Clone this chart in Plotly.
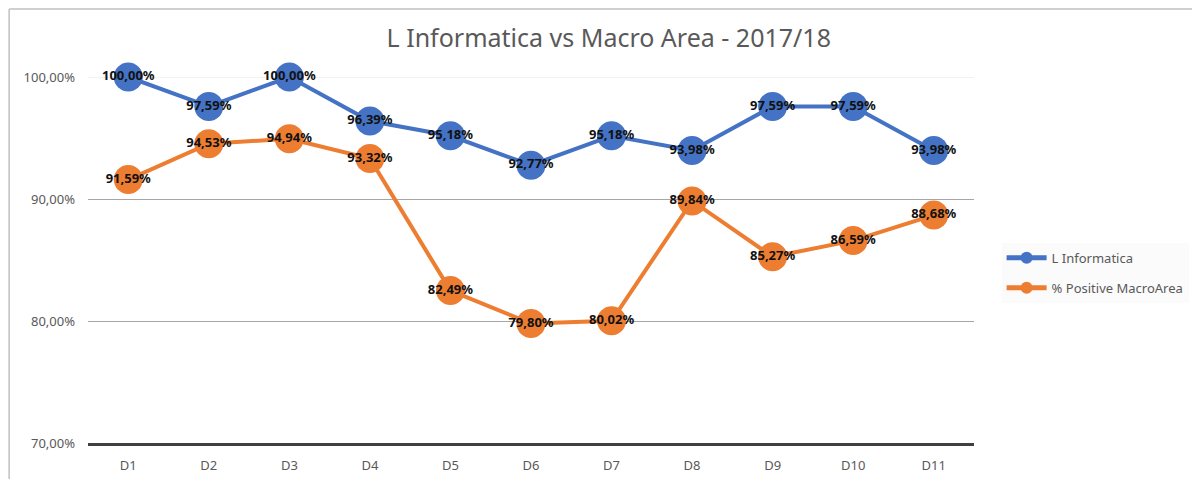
import plotly.graph_objects as go

TITLE = "L Informatica vs Macro Area - 2017/18"
CATEGORIES = ["D1", "D2", "D3", "D4", "D5", "D6", "D7", "D8", "D9", "D10", "D11"]
L_INFORMATICA = [100.00, 97.59, 100.00, 96.39, 95.18, 92.77, 95.18, 93.98, 97.59, 97.59, 93.98]
MACRO_AREA = [91.59, 94.53, 94.94, 93.32, 82.49, 79.80, 80.02, 89.84, 85.27, 86.59, 88.68]
Y_TICKS = [70, 80, 90, 100]

COLOR_BLUE = "#4472C4"
COLOR_ORANGE = "#ED7D31"
TEXT_COLOR = "#595959"
FONT = "Noto Sans, sans-serif"


def _series(name, values, color):
    return go.Scatter(
        x=CATEGORIES,
        y=values,
        name=name,
        legendgroup=name,
        mode="lines+markers+text",
        line=dict(color=color, width=4),
        marker=dict(color=color, size=29),
        text=values,
        texttemplate="%{y:.2f}%",
        textposition="middle center",
        textfont=dict(family=FONT, size=13, color="#111111", weight="bold"),
        cliponaxis=False,
    )


fig = go.Figure([
    _series("L Informatica", L_INFORMATICA, COLOR_BLUE),
    _series("% Positive MacroArea", MACRO_AREA, COLOR_ORANGE),
])

# page body adds an 8px offset, so the figure is 8px smaller than the window
fig.update_layout(
    width=1192,
    height=471,
    margin=dict(l=80, r=225, t=69, b=36),
    paper_bgcolor="white",
    plot_bgcolor="white",
    separators=",.",
    font=dict(family=FONT, size=12, color=TEXT_COLOR),
    title=dict(text=TITLE, x=0.504, xanchor="center", y=0.935, yanchor="middle",
               font=dict(family=FONT, size=25, color=TEXT_COLOR)),
    showlegend=True,
    legend=dict(x=1.03, xanchor="left", y=0.465, yanchor="middle",
                font=dict(family=FONT, size=13, color=TEXT_COLOR),
                bgcolor="#fbfbfb", tracegroupgap=10, itemwidth=40,
                itemsizing="constant"),
    shapes=[
        dict(type="line", xref="paper", yref="paper", x0=-0.089, x1=1.3, y0=1.186, y1=1.186,
             line=dict(color="#c0c0c0", width=1.5), layer="below"),
        dict(type="line", xref="paper", yref="paper", x0=-0.089, x1=-0.089, y0=-0.2, y1=1.186,
             line=dict(color="#c0c0c0", width=1.5), layer="below"),
        dict(type="line", xref="paper", yref="y", x0=0, x1=1, y0=100, y1=100,
             line=dict(color="#e6e6e6", width=1), layer="below"),
    ],
)

fig.update_xaxes(
    type="category",
    range=[-0.5, len(CATEGORIES) - 0.5],
    showgrid=False,
    showline=True,
    linecolor="#404040",
    linewidth=3,
    ticks="",
    ticklabelstandoff=8,
    automargin=False,
    tickfont=dict(family=FONT, size=13, color=TEXT_COLOR),
)
fig.update_yaxes(
    range=[70, 100],
    tickvals=Y_TICKS,
    ticktext=[f"{v:.2f}%".replace(".", ",") for v in Y_TICKS],
    showgrid=True,
    gridcolor="#a6a6a6",
    gridwidth=1,
    zeroline=False,
    ticks="",
    ticklabelstandoff=12,
    automargin=False,
    tickfont=dict(family=FONT, size=13, color=TEXT_COLOR),
)

fig.write_html("out.html")
